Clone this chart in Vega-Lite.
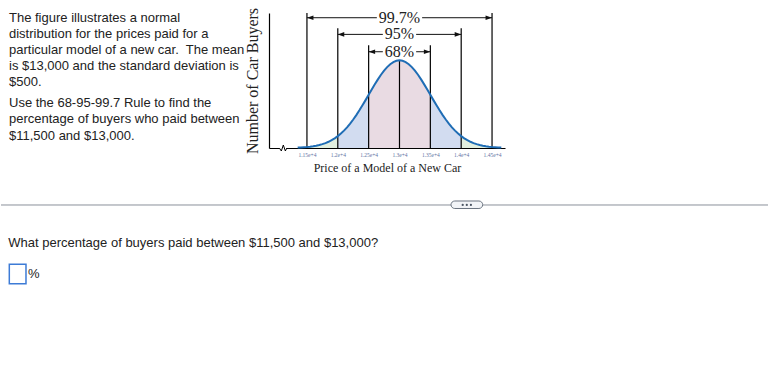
{
  "$schema": "https://vega.github.io/schema/vega-lite/v6.json",
  "padding": {"left": 0, "top": 7, "right": 0, "bottom": 0},
  "background": "white",
  "config": {
    "view": {"stroke": null},
    "axisX": {"grid": false, "ticks": false, "domainColor": "#000000", "domainWidth": 1.2, "labelFont": "Liberation Serif", "labelFontSize": 5.5, "labelColor": "#5f74a3", "labelPadding": 4, "labelFlush": false, "labelOverlap": false, "titleFont": "Liberation Serif", "titleFontSize": 12, "titleFontWeight": "normal", "titleColor": "#222222", "titlePadding": 5},
    "axisY": {"grid": false, "ticks": false, "labels": false, "domainColor": "#000000", "domainWidth": 1.2, "titleFont": "Liberation Serif", "titleFontSize": 16, "titleFontWeight": "normal", "titleColor": "#222222", "titlePadding": 9}
  },
  "columns": 2,
  "align": "each",
  "bounds": "flush",
  "spacing": {"row": 0, "column": 30},
  "datasets": {
    "para": [
      {"r": 0, "t": "The figure illustrates a normal"},
      {"r": 1, "t": "distribution for the prices paid for a"},
      {"r": 2, "t": "particular model of a new car.\u00a0 The mean"},
      {"r": 3, "t": "is $13,000 and the standard deviation is"},
      {"r": 4, "t": "$500."},
      {"r": 5.29, "t": "Use the 68-95-99.7 Rule to find the"},
      {"r": 6.32, "t": "percentage of buyers who paid between"},
      {"r": 7.35, "t": "$11,500 and $13,000."}
    ],
    "curve": [
      {"p": 11350, "h": 0.0043, "s": "A", "z": "g"},
      {"p": 11400, "h": 0.0060, "s": "A", "z": "g"},
      {"p": 11450, "h": 0.0082, "s": "A", "z": "g"},
      {"p": 11500, "h": 0.0111, "s": "A", "z": "g"},
      {"p": 11550, "h": 0.0149, "s": "A", "z": "g"},
      {"p": 11600, "h": 0.0198, "s": "A", "z": "g"},
      {"p": 11650, "h": 0.0261, "s": "A", "z": "g"},
      {"p": 11700, "h": 0.0340, "s": "A", "z": "g"},
      {"p": 11750, "h": 0.0439, "s": "A", "z": "g"},
      {"p": 11800, "h": 0.0561, "s": "A", "z": "g"},
      {"p": 11850, "h": 0.0710, "s": "A", "z": "g"},
      {"p": 11900, "h": 0.0889, "s": "A", "z": "g"},
      {"p": 11950, "h": 0.1103, "s": "A", "z": "g"},
      {"p": 12000, "h": 0.1353, "s": "A", "z": "g"},
      {"p": 12000, "h": 0.1353, "s": "B", "z": "b"},
      {"p": 12050, "h": 0.1645, "s": "B", "z": "b"},
      {"p": 12100, "h": 0.1979, "s": "B", "z": "b"},
      {"p": 12150, "h": 0.2357, "s": "B", "z": "b"},
      {"p": 12200, "h": 0.2780, "s": "B", "z": "b"},
      {"p": 12250, "h": 0.3247, "s": "B", "z": "b"},
      {"p": 12300, "h": 0.3753, "s": "B", "z": "b"},
      {"p": 12350, "h": 0.4296, "s": "B", "z": "b"},
      {"p": 12400, "h": 0.4868, "s": "B", "z": "b"},
      {"p": 12450, "h": 0.5461, "s": "B", "z": "b"},
      {"p": 12500, "h": 0.6065, "s": "B", "z": "b"},
      {"p": 12500, "h": 0.6065, "s": "C", "z": "p"},
      {"p": 12550, "h": 0.6670, "s": "C", "z": "p"},
      {"p": 12600, "h": 0.7261, "s": "C", "z": "p"},
      {"p": 12650, "h": 0.7827, "s": "C", "z": "p"},
      {"p": 12700, "h": 0.8353, "s": "C", "z": "p"},
      {"p": 12750, "h": 0.8825, "s": "C", "z": "p"},
      {"p": 12800, "h": 0.9231, "s": "C", "z": "p"},
      {"p": 12850, "h": 0.9560, "s": "C", "z": "p"},
      {"p": 12900, "h": 0.9802, "s": "C", "z": "p"},
      {"p": 12950, "h": 0.9950, "s": "C", "z": "p"},
      {"p": 13000, "h": 1.0, "s": "C", "z": "p"},
      {"p": 13050, "h": 0.9950, "s": "C", "z": "p"},
      {"p": 13100, "h": 0.9802, "s": "C", "z": "p"},
      {"p": 13150, "h": 0.9560, "s": "C", "z": "p"},
      {"p": 13200, "h": 0.9231, "s": "C", "z": "p"},
      {"p": 13250, "h": 0.8825, "s": "C", "z": "p"},
      {"p": 13300, "h": 0.8353, "s": "C", "z": "p"},
      {"p": 13350, "h": 0.7827, "s": "C", "z": "p"},
      {"p": 13400, "h": 0.7261, "s": "C", "z": "p"},
      {"p": 13450, "h": 0.6670, "s": "C", "z": "p"},
      {"p": 13500, "h": 0.6065, "s": "C", "z": "p"},
      {"p": 13500, "h": 0.6065, "s": "D", "z": "b"},
      {"p": 13550, "h": 0.5461, "s": "D", "z": "b"},
      {"p": 13600, "h": 0.4868, "s": "D", "z": "b"},
      {"p": 13650, "h": 0.4296, "s": "D", "z": "b"},
      {"p": 13700, "h": 0.3753, "s": "D", "z": "b"},
      {"p": 13750, "h": 0.3247, "s": "D", "z": "b"},
      {"p": 13800, "h": 0.2780, "s": "D", "z": "b"},
      {"p": 13850, "h": 0.2357, "s": "D", "z": "b"},
      {"p": 13900, "h": 0.1979, "s": "D", "z": "b"},
      {"p": 13950, "h": 0.1645, "s": "D", "z": "b"},
      {"p": 14000, "h": 0.1353, "s": "D", "z": "b"},
      {"p": 14000, "h": 0.1353, "s": "E", "z": "g"},
      {"p": 14050, "h": 0.1103, "s": "E", "z": "g"},
      {"p": 14100, "h": 0.0889, "s": "E", "z": "g"},
      {"p": 14150, "h": 0.0710, "s": "E", "z": "g"},
      {"p": 14200, "h": 0.0561, "s": "E", "z": "g"},
      {"p": 14250, "h": 0.0439, "s": "E", "z": "g"},
      {"p": 14300, "h": 0.0340, "s": "E", "z": "g"},
      {"p": 14350, "h": 0.0261, "s": "E", "z": "g"},
      {"p": 14400, "h": 0.0198, "s": "E", "z": "g"},
      {"p": 14450, "h": 0.0149, "s": "E", "z": "g"},
      {"p": 14500, "h": 0.0111, "s": "E", "z": "g"},
      {"p": 14550, "h": 0.0082, "s": "E", "z": "g"},
      {"p": 14600, "h": 0.0060, "s": "E", "z": "g"},
      {"p": 14650, "h": 0.0043, "s": "E", "z": "g"}
    ],
    "vrules": [
      {"p": 11500, "top": 1.54, "bot": 0},
      {"p": 14500, "top": 1.54, "bot": 0},
      {"p": 12000, "top": 1.365, "bot": 0},
      {"p": 14000, "top": 1.365, "bot": 0},
      {"p": 12500, "top": 1.171, "bot": 0},
      {"p": 13500, "top": 1.171, "bot": 0},
      {"p": 13000, "top": 1.0, "bot": 0}
    ],
    "arrows": [
      {"p": 11500, "p2": 12633, "h": 1.486},
      {"p": 13367, "p2": 14500, "h": 1.486},
      {"p": 12000, "p2": 12730, "h": 1.296},
      {"p": 13270, "p2": 14000, "h": 1.296},
      {"p": 12500, "p2": 12730, "h": 1.098},
      {"p": 13270, "p2": 13500, "h": 1.098}
    ],
    "heads": [
      {"p": 11500, "h": 1.486, "d": "L"},
      {"p": 14500, "h": 1.486, "d": "R"},
      {"p": 12000, "h": 1.296, "d": "L"},
      {"p": 14000, "h": 1.296, "d": "R"},
      {"p": 12500, "h": 1.098, "d": "L"},
      {"p": 13500, "h": 1.098, "d": "R"}
    ],
    "labels": [
      {"p": 13000, "h": 1.486, "t": "99.7%"},
      {"p": 13000, "h": 1.296, "t": "95%"},
      {"p": 13000, "h": 1.098, "t": "68%"}
    ],
    "erase": [{"p": 11052, "p2": 11174, "h": 0}],
    "brk": [
      {"p": 11052, "h": 0},
      {"p": 11085, "h": -0.034},
      {"p": 11117, "h": 0.034},
      {"p": 11150, "h": -0.034},
      {"p": 11174, "h": 0}
    ],
    "sep": [
      {"x": 0, "x2": 1.8908, "y": 0.6275},
      {"x": 2.0252, "x2": 3.2269, "y": 0.6275}
    ],
    "pill": [{"x": 1.8908, "x2": 2.0239, "y": 0.6046, "y2": 0.6536}],
    "dots": [
      {"x": 1.9399, "y": 0.6275},
      {"x": 1.9571, "y": 0.6275},
      {"x": 1.9744, "y": 0.6275}
    ],
    "qtext": [
      {"x": 0.0307, "y": 0.381, "t": "What percentage of buyers paid between $11,500 and $13,000?"},
      {"x": 0.1134, "y": 0.1765, "t": "%"}
    ],
    "box": [{"x": 0.0349, "x2": 0.1050, "y": 0.1131, "y2": 0.2399}]
  },
  "concat": [
    {
      "width": 238,
      "height": 135,
      "data": {"name": "para"},
      "mark": {"type": "text", "align": "left", "baseline": "middle", "dx": 8, "font": "Liberation Sans", "fontSize": 13, "color": "#222222"},
      "encoding": {
        "x": {"datum": 0, "type": "quantitative", "scale": {"domain": [0, 1], "nice": false}, "axis": null},
        "y": {"field": "r", "type": "quantitative", "scale": {"domain": [-0.292, 8.103], "reverse": true, "nice": false, "zero": false}, "axis": null},
        "text": {"field": "t"}
      }
    },
    {
      "width": 236,
      "height": 135,
      "layer": [
        {
          "data": {"name": "curve"},
          "mark": {"type": "area", "opacity": 1},
          "encoding": {
            "x": {"field": "p", "type": "quantitative", "scale": {"domain": [10885, 14710], "nice": false, "zero": false}, "axis": {"title": "Price of a Model of a New Car", "values": [11500, 12000, 12500, 13000, 13500, 14000, 14500], "format": ","}},
            "y": {"field": "h", "type": "quantitative", "stack": null, "scale": {"domain": [0, 1.54], "nice": false}, "axis": {"title": "Number of Car Buyers"}},
            "color": {"field": "z", "type": "nominal", "scale": {"domain": ["g", "b", "p"], "range": ["#e2efdf", "#d2dcf0", "#e9dbe3"]}, "legend": null},
            "detail": {"field": "s"}
          }
        },
        {
          "data": {"name": "vrules"},
          "mark": {"type": "rule", "color": "#000000", "strokeWidth": 1.2},
          "encoding": {
            "x": {"field": "p", "type": "quantitative", "scale": {"domain": [10885, 14710], "nice": false, "zero": false}, "axis": {"title": "Price of a Model of a New Car", "values": [11500, 12000, 12500, 13000, 13500, 14000, 14500], "format": ","}},
            "y": {"field": "top", "type": "quantitative", "scale": {"domain": [0, 1.54], "nice": false}, "axis": {"title": "Number of Car Buyers"}},
            "y2": {"field": "bot"}
          }
        },
        {
          "data": {"name": "curve"},
          "mark": {"type": "line", "color": "#1f6db5", "strokeWidth": 2},
          "encoding": {
            "x": {"field": "p", "type": "quantitative", "scale": {"domain": [10885, 14710], "nice": false, "zero": false}, "axis": {"title": "Price of a Model of a New Car", "values": [11500, 12000, 12500, 13000, 13500, 14000, 14500], "format": ","}},
            "y": {"field": "h", "type": "quantitative", "scale": {"domain": [0, 1.54], "nice": false}, "axis": {"title": "Number of Car Buyers"}}
          }
        },
        {
          "data": {"name": "arrows"},
          "mark": {"type": "rule", "color": "#111111", "strokeWidth": 1},
          "encoding": {
            "x": {"field": "p", "type": "quantitative", "scale": {"domain": [10885, 14710], "nice": false, "zero": false}, "axis": {"title": "Price of a Model of a New Car", "values": [11500, 12000, 12500, 13000, 13500, 14000, 14500], "format": ","}},
            "x2": {"field": "p2"},
            "y": {"field": "h", "type": "quantitative", "scale": {"domain": [0, 1.54], "nice": false}, "axis": {"title": "Number of Car Buyers"}}
          }
        },
        {
          "data": {"name": "heads"},
          "mark": {"type": "point", "filled": true, "opacity": 1, "color": "#111111", "size": 42},
          "encoding": {
            "x": {"field": "p", "type": "quantitative", "scale": {"domain": [10885, 14710], "nice": false, "zero": false}, "axis": {"title": "Price of a Model of a New Car", "values": [11500, 12000, 12500, 13000, 13500, 14000, 14500], "format": ","}},
            "y": {"field": "h", "type": "quantitative", "scale": {"domain": [0, 1.54], "nice": false}, "axis": {"title": "Number of Car Buyers"}},
            "shape": {"field": "d", "type": "nominal", "scale": {"domain": ["L", "R"], "range": ["M0,0L2,-0.7L2,0.7Z", "M0,0L-2,-0.7L-2,0.7Z"]}, "legend": null}
          }
        },
        {
          "data": {"name": "labels"},
          "mark": {"type": "text", "font": "Liberation Serif", "fontSize": 16, "color": "#222222", "baseline": "middle", "align": "center"},
          "encoding": {
            "x": {"field": "p", "type": "quantitative", "scale": {"domain": [10885, 14710], "nice": false, "zero": false}, "axis": {"title": "Price of a Model of a New Car", "values": [11500, 12000, 12500, 13000, 13500, 14000, 14500], "format": ","}},
            "y": {"field": "h", "type": "quantitative", "scale": {"domain": [0, 1.54], "nice": false}, "axis": {"title": "Number of Car Buyers"}},
            "text": {"field": "t"}
          }
        },
        {
          "data": {"name": "erase"},
          "mark": {"type": "rule", "color": "#ffffff", "strokeWidth": 3},
          "encoding": {
            "x": {"field": "p", "type": "quantitative", "scale": {"domain": [10885, 14710], "nice": false, "zero": false}, "axis": {"title": "Price of a Model of a New Car", "values": [11500, 12000, 12500, 13000, 13500, 14000, 14500], "format": ","}},
            "x2": {"field": "p2"},
            "y": {"field": "h", "type": "quantitative", "scale": {"domain": [0, 1.54], "nice": false}, "axis": {"title": "Number of Car Buyers"}}
          }
        },
        {
          "data": {"name": "brk"},
          "mark": {"type": "line", "color": "#000000", "strokeWidth": 1},
          "encoding": {
            "x": {"field": "p", "type": "quantitative", "scale": {"domain": [10885, 14710], "nice": false, "zero": false}, "axis": {"title": "Price of a Model of a New Car", "values": [11500, 12000, 12500, 13000, 13500, 14000, 14500], "format": ","}},
            "y": {"field": "h", "type": "quantitative", "scale": {"domain": [0, 1.54], "nice": false}, "axis": {"title": "Number of Car Buyers"}}
          }
        }
      ]
    },
    {
      "width": 238,
      "height": 153,
      "layer": [
        {
          "data": {"name": "sep"},
          "mark": {"type": "rule", "color": "#8a919b", "strokeWidth": 1},
          "encoding": {
            "x": {"field": "x", "type": "quantitative", "scale": {"domain": [0, 1], "nice": false}, "axis": null},
            "x2": {"field": "x2"},
            "y": {"field": "y", "type": "quantitative", "scale": {"domain": [0, 1], "nice": false}, "axis": null}
          }
        },
        {
          "data": {"name": "pill"},
          "mark": {"type": "rect", "cornerRadius": 4, "fill": "#f2f4f7", "stroke": "#6b7480", "strokeWidth": 1},
          "encoding": {
            "x": {"field": "x", "type": "quantitative", "scale": {"domain": [0, 1], "nice": false}, "axis": null},
            "x2": {"field": "x2"},
            "y": {"field": "y", "type": "quantitative", "scale": {"domain": [0, 1], "nice": false}, "axis": null},
            "y2": {"field": "y2"}
          }
        },
        {
          "data": {"name": "dots"},
          "mark": {"type": "point", "filled": true, "opacity": 1, "color": "#4b5563", "size": 5},
          "encoding": {
            "x": {"field": "x", "type": "quantitative", "scale": {"domain": [0, 1], "nice": false}, "axis": null},
            "y": {"field": "y", "type": "quantitative", "scale": {"domain": [0, 1], "nice": false}, "axis": null}
          }
        },
        {
          "data": {"name": "box"},
          "mark": {"type": "rect", "fill": "#ffffff", "stroke": "#3d7bd6", "strokeWidth": 1.5},
          "encoding": {
            "x": {"field": "x", "type": "quantitative", "scale": {"domain": [0, 1], "nice": false}, "axis": null},
            "x2": {"field": "x2"},
            "y": {"field": "y", "type": "quantitative", "scale": {"domain": [0, 1], "nice": false}, "axis": null},
            "y2": {"field": "y2"}
          }
        },
        {
          "data": {"name": "qtext"},
          "mark": {"type": "text", "align": "left", "baseline": "middle", "font": "Liberation Sans", "fontSize": 13, "color": "#222222"},
          "encoding": {
            "x": {"field": "x", "type": "quantitative", "scale": {"domain": [0, 1], "nice": false}, "axis": null},
            "y": {"field": "y", "type": "quantitative", "scale": {"domain": [0, 1], "nice": false}, "axis": null},
            "text": {"field": "t"}
          }
        }
      ]
    }
  ]
}
